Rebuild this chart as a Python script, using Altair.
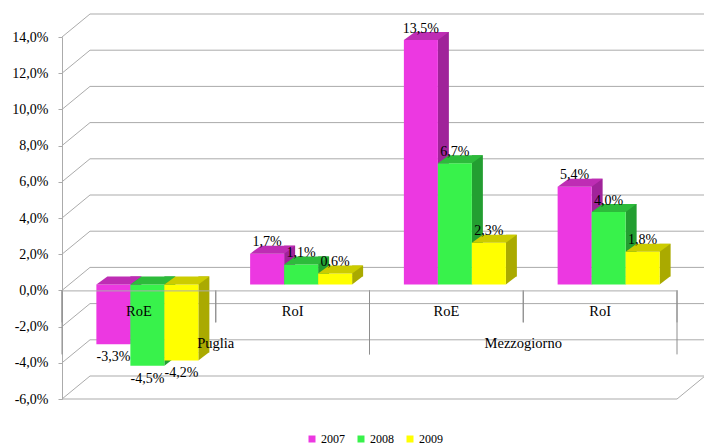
import altair as alt
import pandas as pd

# ---- data -------------------------------------------------------------
years = ["2007", "2008", "2009"]
groups = ["Puglia", "Mezzogiorno"]
metrics = ["RoE", "RoI"]

puglia_roe = [-3.3, -4.5, -4.2]
puglia_roi = [1.7, 1.1, 0.6]
mezzogiorno_roe = [13.5, 6.7, 2.3]
mezzogiorno_roi = [5.4, 4.0, 1.8]

y_ticks = [-6, -4, -2, 0, 2, 4, 6, 8, 10, 12, 14]

# face colours per year: front, right side, top
front_colors = ["#EC38E1", "#38F24B", "#FFFF00"]
side_colors = ["#A0239A", "#239E31", "#AAAA00"]
top_colors = ["#BE2DB4", "#2DBB3B", "#CCCC00"]

# ---- layout -----------------------------------------------------------
W, H = 615, 362
Y_MIN, Y_MAX = -6, 14
DEPTH_X, DEPTH_Y = 28, 23      # back wall offset
BAR_DX, BAR_DY = 8.5, 6        # bars sit a little inside the box
FACE_DX, FACE_DY = 11, 8       # depth of each bar
BAR_W = 34
BAND = W / 4
PAD_OUTER = (BAND / BAR_W - 3) / 2
AXIS_OFFSET = -(0 - Y_MIN) / (Y_MAX - Y_MIN) * H
SERIF = "'Liberation Serif', 'Times New Roman', serif"
GRID = "#ABABAB"
DARK = "#8E8E8E"

series = {
    ("Puglia", "RoE"): puglia_roe,
    ("Puglia", "RoI"): puglia_roi,
    ("Mezzogiorno", "RoE"): mezzogiorno_roe,
    ("Mezzogiorno", "RoI"): mezzogiorno_roi,
}
rows = []
for g in groups:
    for m in metrics:
        for i, (yr, v) in enumerate(zip(years, series[(g, m)])):
            rows.append(dict(cat=f"{g} {m}", year=yr, value=v,
                             hi=max(v, 0.0), lo=min(v, 0.0),
                             label=f"{v:.1f}".replace(".", ",") + "%",
                             side=side_colors[i], top=top_colors[i]))
bars = pd.DataFrame(rows)
cats = [f"{g} {m}" for g in groups for m in metrics]

ticks_df = pd.DataFrame({"t": y_ticks})
groups_df = pd.DataFrame({"group": groups,
                          "first": [f"{g} {metrics[0]}" for g in groups],
                          "last": [f"{g} {metrics[-1]}" for g in groups]})
cats_df = pd.DataFrame({"cat": cats})

# ---- shared encodings -------------------------------------------------
y_axis = alt.Axis(
    values=y_ticks, title=None, grid=False, labelOverlap=False,
    domainColor=GRID, tickColor=GRID, tickSize=4, labelPadding=10,
    labelFont=SERIF, labelFontSize=14, labelColor="black",
    labelExpr="(datum.value < 0 ? '-' : '') + replace(format(abs(datum.value), '.1f'), '.', ',') + '%'",
)
y_scale = alt.Scale(domain=[Y_MIN, Y_MAX], nice=False, zero=False)

x_axis = alt.Axis(
    title=None, orient="bottom", offset=AXIS_OFFSET, ticks=False,
    domainColor=GRID, labelAngle=0, labelBaseline="middle", labelPadding=21,
    labelFont=SERIF, labelFontSize=14.5, labelColor="black",
    labelExpr="split(datum.label, ' ')[1]", zindex=1,
)
x_scale = alt.Scale(type="band", domain=cats, paddingInner=0, paddingOuter=0)


def X(field="cat", **kw):
    return alt.X(f"{field}:N", sort=cats, scale=x_scale, axis=x_axis, **kw)


def Y(field):
    return alt.Y(f"{field}:Q", scale=y_scale, axis=y_axis)


def Y0():
    return alt.YDatum(0, scale=y_scale, axis=y_axis)


def XOff(shift):
    return alt.XOffset("year:N", sort=years,
                       scale=alt.Scale(type="band", domain=years,
                                       range=[shift, BAND + shift],
                                       paddingInner=0, paddingOuter=PAD_OUTER))


# ---- box: back wall lines, side diagonals, floor ----------------------
back_lines = alt.Chart(ticks_df).mark_rule(
    color=GRID, strokeWidth=1, xOffset=DEPTH_X, x2Offset=DEPTH_X, yOffset=-DEPTH_Y
).encode(y=Y("t"), x=alt.value(0), x2=alt.value(W))

diagonals = alt.Chart(ticks_df).mark_rule(
    color=GRID, strokeWidth=1, x2Offset=DEPTH_X, y2Offset=-DEPTH_Y
).encode(y=Y("t"), y2="t:Q", x=alt.value(0), x2=alt.value(0))

floor_front = alt.Chart(ticks_df).transform_filter(f"datum.t == {Y_MIN}").mark_rule(
    color=GRID, strokeWidth=1
).encode(y=Y("t"), x=alt.value(0), x2=alt.value(W))

floor_right = alt.Chart(ticks_df).transform_filter(f"datum.t == {Y_MIN}").mark_rule(
    color=GRID, strokeWidth=1, x2Offset=DEPTH_X, y2Offset=-DEPTH_Y
).encode(y=Y("t"), y2="t:Q", x=alt.value(W), x2=alt.value(W))

# ---- 3-D columns ------------------------------------------------------
shift_front = BAR_DX
shift_side = BAR_DX + BAR_W / 2 + FACE_DX / 2
half = BAR_W / 2

side_faces = alt.Chart(bars).mark_bar(
    width=FACE_DX, yOffset=-(BAR_DY + FACE_DY), y2Offset=-(BAR_DY + FACE_DY)
).encode(x=X(), xOffset=XOff(shift_side), y=Y("hi"), y2="lo:Q",
         color=alt.Color("side:N", scale=None))

side_bottom = alt.Chart(bars).mark_point(
    shape=f"M{half},{-FACE_DY - 0.5}L{half + FACE_DX},{-FACE_DY - 0.5}L{half},0Z",
    size=4, filled=True, opacity=1, strokeWidth=0, yOffset=-BAR_DY
).encode(x=X(), xOffset=XOff(shift_front), y=Y("lo"),
         color=alt.Color("side:N", scale=None))

front_faces = alt.Chart(bars).mark_bar(
    yOffset=-BAR_DY, y2Offset=-BAR_DY
).encode(
    x=X(), xOffset=XOff(shift_front), y=Y("hi"), y2="lo:Q",
    color=alt.Color("year:N", sort=years,
                    scale=alt.Scale(domain=years, range=front_colors),
                    legend=alt.Legend(
                        title=None, orient="none", direction="horizontal",
                        legendX=244, legendY=396,
                        symbolType="square", symbolSize=49, symbolStrokeWidth=0,
                        labelFont=SERIF, labelFontSize=12, labelColor="black",
                        labelOffset=3, columnPadding=10)),
)

top_faces = alt.Chart(bars).mark_point(
    shape=f"M{-half},0L{half},0L{half + FACE_DX},{-FACE_DY}L{-half + FACE_DX},{-FACE_DY}Z",
    size=4, filled=True, opacity=1, strokeWidth=0, yOffset=-BAR_DY
).encode(x=X(), xOffset=XOff(shift_front), y=Y("hi"),
         color=alt.Color("top:N", scale=None))

label_pos = alt.Chart(bars).transform_filter("datum.value >= 0").mark_text(
    font=SERIF, fontSize=14, color="black", baseline="middle", dy=-(BAR_DY + 11.5)
).encode(x=X(), xOffset=XOff(shift_front), y=Y("value"), text="label:N")

label_neg = alt.Chart(bars).transform_filter("datum.value < 0").mark_text(
    font=SERIF, fontSize=14, color="black", baseline="middle", dy=13 - BAR_DY
).encode(x=X(), xOffset=XOff(shift_front), y=Y("value"), text="label:N")

# ---- two-level category axis: separators and group names --------------
sub_start = alt.Chart(cats_df).mark_rule(color=DARK, y2Offset=32).encode(
    x=X("cat", bandPosition=0), y=Y0(), y2=alt.datum(0))
sub_end = alt.Chart(cats_df).mark_rule(color=DARK, y2Offset=32).encode(
    x=X("cat", bandPosition=1), y=Y0(), y2=alt.datum(0))
grp_start = alt.Chart(groups_df).mark_rule(color=DARK, y2Offset=64).encode(
    x=X("first", bandPosition=0), y=Y0(), y2=alt.datum(0))
grp_end = alt.Chart(groups_df).mark_rule(color=DARK, y2Offset=64).encode(
    x=X("last", bandPosition=1), y=Y0(), y2=alt.datum(0))
grp_label = alt.Chart(groups_df).mark_text(
    font=SERIF, fontSize=14.5, color="black", baseline="middle", dy=54
).encode(x=X("first", bandPosition=1), y=Y0(), text="group:N")

chart = alt.layer(
    back_lines, diagonals, floor_front, floor_right,
    side_faces, side_bottom, front_faces, top_faces,
    sub_start, sub_end, grp_start, grp_end,
    label_pos, label_neg, grp_label,
).resolve_scale(
    xOffset="independent"
).properties(
    width=W, height=H,
    autosize=alt.AutoSizeParams(type="none"),
    padding={"left": 62, "top": 37, "right": 704 - 62 - W, "bottom": 446 - 37 - H},
    background="white",
).configure_view(stroke=None).configure_axis(labelOverlap=False)

chart.save("out.html", embed_options={"renderer": "svg", "actions": False})
